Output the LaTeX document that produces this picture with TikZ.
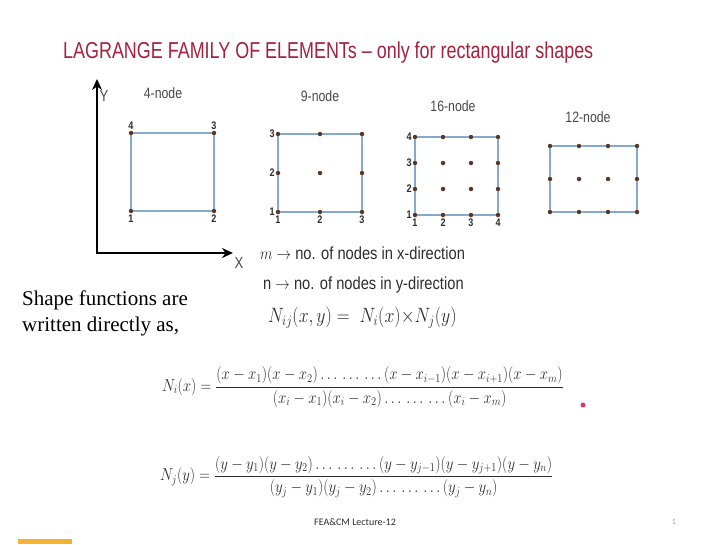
\documentclass[tikz,border=0pt]{standalone}
\usepackage{amsmath,amssymb}
\usepackage{fontspec}
\setmainfont{Liberation Serif}
\setsansfont{Liberation Sans}
\newfontfamily\footfont{Carlito}
\usetikzlibrary{arrows.meta,positioning}

\definecolor{titlered}{HTML}{A3223F}
\definecolor{slidegrey}{HTML}{2E2E2E}
\definecolor{labelgrey}{HTML}{4A4A4A}
\definecolor{edgeblue}{HTML}{86A9CC}
\definecolor{dotbrown}{HTML}{5A3624}
\definecolor{pointerred}{HTML}{E23468}
\definecolor{barorange}{HTML}{F2B233}

\begin{document}
\begin{tikzpicture}[x=1pt,y=-1pt]
\tikzset{
  narrow/.style={xscale=0.82,transform shape},
  titletext/.style={xscale=0.78,transform shape,inner sep=0pt,anchor=west,text=titlered,font=\sffamily\fontsize{23}{27}\selectfont},
  captext/.style={narrow,inner sep=0pt,text=labelgrey,font=\sffamily\fontsize{15}{18}\selectfont},
  numlab/.style={narrow,inner sep=1pt,text=slidegrey,font=\sffamily\bfseries\fontsize{11}{13}\selectfont},
  bodytext/.style={xscale=0.84,transform shape,inner sep=0pt,anchor=west,text=slidegrey,font=\sffamily\fontsize{17.5}{20}\selectfont},
  serifnote/.style={inner sep=0pt,anchor=west,align=left,text=black,font=\rmfamily\fontsize{21}{26}\selectfont},
  eqn/.style={xscale=0.86,transform shape,inner sep=0pt,anchor=west,text=slidegrey,font=\fontsize{17}{20}\selectfont},
  nodedot/.style={circle,fill=dotbrown,minimum size=4.5pt,inner sep=0pt,label distance=0pt},
  elemedge/.style={draw=edgeblue,line width=1.8pt,line join=miter},
  axisarrow/.style={draw=black,line width=2.4pt,{Stealth[length=11pt,width=10pt]}-{Stealth[length=11pt,width=10pt]}}
}
\newcommand{\grpdots}{\ldots\,\ldots\,\ldots}
\useasboundingbox[fill=white] (0,0) rectangle (719,544);
\node[titletext] (n_title) at (63,53) {LAGRANGE FAMILY OF ELEMENTs -- only for rectangular shapes};
% axes
\coordinate (n_O) at (97,253);
\coordinate (n_ytip) at (97,79);
\coordinate (n_xtip) at (233,253);
\draw[axisarrow] (n_ytip) -- (n_O) -- (n_xtip);
\node[captext,font=\sffamily\fontsize{16}{18}\selectfont] (n_Ylab) at (104,96) {Y};
\node[captext,font=\sffamily\fontsize{16}{18}\selectfont] (n_Xlab) at (239,263) {X};
% captions
\node[captext] (n_cap4) at (163,93) {4-node};
\node[captext] (n_cap9) at (320,96) {9-node};
\node[captext] (n_cap16) at (453,106) {16-node};
\node[captext] (n_cap12) at (588,117) {12-node};
% 4-node element
\node[nodedot,label={[numlab]below:1}] (n_a1) at (131,211) {};
\node[nodedot,label={[numlab]below:2}] (n_a2) at (214,211) {};
\node[nodedot,label={[numlab]above:3}] (n_a3) at (214,133) {};
\node[nodedot,label={[numlab]above:4}] (n_a4) at (131,133) {};
\draw[elemedge] (n_a1) -- (n_a2) -- (n_a3) -- (n_a4) -- (n_a1);
% 9-node element
\node[nodedot,label={[numlab]left:1},label={[numlab]below:1}] (n_b11) at (278,212) {};
\node[nodedot,label={[numlab]below:2}] (n_b21) at (320,212) {};
\node[nodedot,label={[numlab]below:3}] (n_b31) at (362,212) {};
\node[nodedot,label={[numlab]left:2}] (n_b12) at (278,173) {};
\node[nodedot] (n_b22) at (320,173) {};
\node[nodedot] (n_b32) at (362,173) {};
\node[nodedot,label={[numlab]left:3}] (n_b13) at (278,134) {};
\node[nodedot] (n_b23) at (320,134) {};
\node[nodedot] (n_b33) at (362,134) {};
\draw[elemedge] (n_b11) -- (n_b21) -- (n_b31) -- (n_b32) -- (n_b33) -- (n_b23) -- (n_b13) -- (n_b12) -- (n_b11);
% 16-node element
\node[nodedot,label={[numlab]left:1},label={[numlab]below:1}] (n_c11) at (415,215) {};
\node[nodedot,label={[numlab]below:2}] (n_c21) at (443,215) {};
\node[nodedot,label={[numlab]below:3}] (n_c31) at (471,215) {};
\node[nodedot,label={[numlab]below:4}] (n_c41) at (498,215) {};
\node[nodedot,label={[numlab]left:2}] (n_c12) at (415,189) {};
\node[nodedot] (n_c22) at (443,189) {};
\node[nodedot] (n_c32) at (471,189) {};
\node[nodedot] (n_c42) at (498,189) {};
\node[nodedot,label={[numlab]left:3}] (n_c13) at (415,163) {};
\node[nodedot] (n_c23) at (443,163) {};
\node[nodedot] (n_c33) at (471,163) {};
\node[nodedot] (n_c43) at (498,163) {};
\node[nodedot,label={[numlab]left:4}] (n_c14) at (415,137) {};
\node[nodedot] (n_c24) at (443,137) {};
\node[nodedot] (n_c34) at (471,137) {};
\node[nodedot] (n_c44) at (498,137) {};
\draw[elemedge] (n_c11) -- (n_c21) -- (n_c31) -- (n_c41) -- (n_c42) -- (n_c43) -- (n_c44) -- (n_c34) -- (n_c24) -- (n_c14) -- (n_c13) -- (n_c12) -- (n_c11);
% 12-node element
\node[nodedot] (n_d11) at (550,212) {};
\node[nodedot] (n_d21) at (579,212) {};
\node[nodedot] (n_d31) at (608,212) {};
\node[nodedot] (n_d41) at (637,212) {};
\node[nodedot] (n_d12) at (550,179) {};
\node[nodedot] (n_d22) at (579,179) {};
\node[nodedot] (n_d32) at (608,179) {};
\node[nodedot] (n_d42) at (637,179) {};
\node[nodedot] (n_d13) at (550,146) {};
\node[nodedot] (n_d23) at (579,146) {};
\node[nodedot] (n_d33) at (608,146) {};
\node[nodedot] (n_d43) at (637,146) {};
\draw[elemedge] (n_d11) -- (n_d21) -- (n_d31) -- (n_d41) -- (n_d42) -- (n_d43) -- (n_d33) -- (n_d23) -- (n_d13) -- (n_d12) -- (n_d11);
% text and formulas
\node[bodytext] (n_mline) at (260,253) {$m$ $\rightarrow$ no. of nodes in x-direction};
\node[bodytext] (n_nline) at (263,285) {n $\rightarrow$ no. of nodes in y-direction};
\node[serifnote] (n_note) at (22,313) {Shape functions are\\written directly as,};
\node[eqn,font=\fontsize{20.5}{23}\selectfont] (n_Nij) at (268,318) {$N_{ij}(x,y) =\; N_i(x){\times}N_j(y)$};
\node[eqn] (n_Ni) at (162,387) {$N_i(x) = \dfrac{(x-x_1)(x-x_2)\grpdots(x-x_{i-1})(x-x_{i+1})(x-x_m)}{(x_i-x_1)(x_i-x_2)\grpdots(x_i-x_m)}$};
\node[eqn] (n_Nj) at (160,477) {$N_j(y) = \dfrac{(y-y_1)(y-y_2)\grpdots(y-y_{j-1})(y-y_{j+1})(y-y_n)}{(y_j-y_1)(y_j-y_2)\grpdots(y_j-y_n)}$};
\node[circle,fill=pointerred,minimum size=5pt,inner sep=0pt] (n_pointer) at (583,405) {};
% footer
\node[inner sep=0pt,text=slidegrey,font=\footfont\fontsize{10}{12}\selectfont] (n_foot) at (355,522) {FEA\&CM Lecture-12};
\node[inner sep=0pt,text=labelgrey!50,font=\footfont\fontsize{8}{10}\selectfont] (n_page) at (674,522) {1};
\fill[barorange] (18,539) rectangle (72,544);
\end{tikzpicture}
\end{document}
